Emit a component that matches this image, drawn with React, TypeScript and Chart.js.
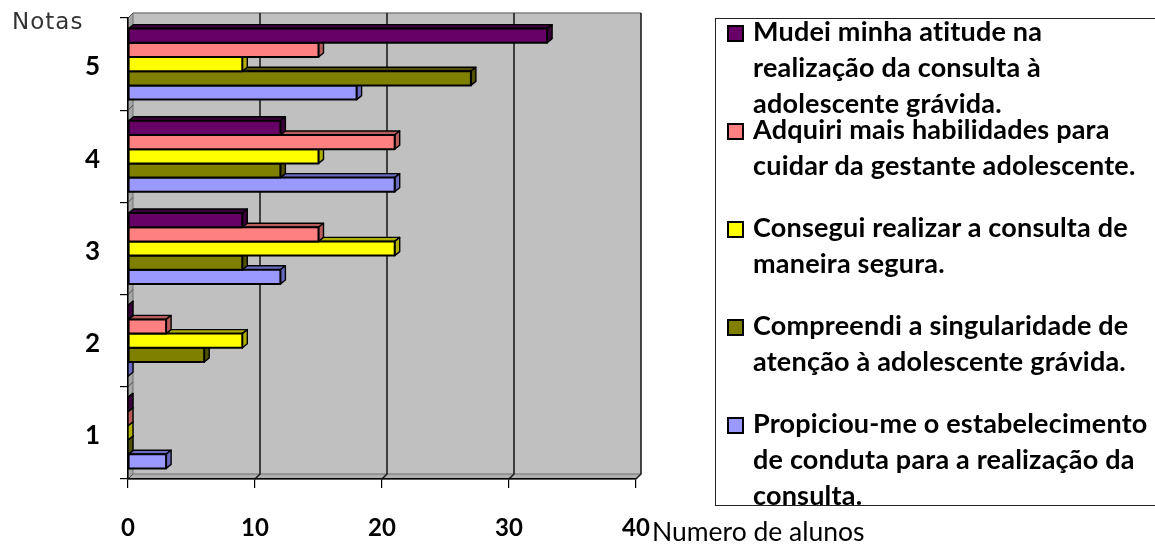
import React, { useEffect, useRef } from "react";
import { Chart, registerables } from "chart.js";

Chart.register(...registerables);

// Grades shown on the category axis, top to bottom
const notas = ["5", "4", "3", "2", "1"];

// Number of students per grade for each statement
const mudeiAtitude = [33, 12, 9, 0, 0];
const adquiriHabilidades = [15, 21, 15, 3, 0];
const conseguiRealizar = [9, 15, 21, 9, 0];
const compreendiSingularidade = [27, 12, 9, 6, 0];
const propiciouConduta = [18, 21, 12, 0, 3];

// Value axis range
const xMin = 0;
const xMax = 40;
const xStep = 10;

const axisTitleY = "Notas";
const axisTitleX = "Numero de alunos";

// Statement texts, already broken into the lines shown in the legend
const legendLines: string[][] = [
  ["Mudei minha atitude na", "realização da consulta à", "adolescente grávida."],
  ["Adquiri mais habilidades para", "cuidar da gestante adolescente."],
  ["Consegui realizar a consulta de", "maneira segura."],
  ["Compreendi a singularidade de", "atenção à adolescente grávida."],
  ["Propiciou-me o estabelecimento", "de conduta para a realização da", "consulta."],
];

const frontColors = ["#660066", "#FF8080", "#FFFF00", "#808000", "#9999FF"];
const sideColors = ["#3a003a", "#b85c5c", "#b0b000", "#505000", "#6a6ac0"];

const seriesValues = [
  mudeiAtitude,
  adquiriHabilidades,
  conseguiRealizar,
  compreendiSingularidade,
  propiciouConduta,
];

// depth of the walls and of the bars
const WALL_DX = 5;
const WALL_DY = 5;
const BAR_DX = 5;
const BAR_DY = 4;

const depthPlugin = {
  id: "depth3d",
  beforeDraw(chart: any) {
    const { ctx, chartArea } = chart;
    const { left, right, top, bottom } = chartArea;
    ctx.save();
    // back wall
    ctx.fillStyle = "#C0C0C0";
    ctx.fillRect(left + WALL_DX, top - WALL_DY, right - left, bottom - top);
    ctx.strokeStyle = "#808080";
    ctx.lineWidth = 1.5;
    ctx.beginPath();
    ctx.moveTo(left + WALL_DX, top - WALL_DY);
    ctx.lineTo(right + WALL_DX, top - WALL_DY);
    ctx.stroke();

    // left wall
    ctx.fillStyle = "#A6A6A6";
    ctx.beginPath();
    ctx.moveTo(left, top);
    ctx.lineTo(left + WALL_DX, top - WALL_DY);
    ctx.lineTo(left + WALL_DX, bottom - WALL_DY);
    ctx.lineTo(left, bottom);
    ctx.closePath();
    ctx.fill();
    ctx.strokeStyle = "#707070";
    ctx.lineWidth = 1;
    ctx.stroke();

    // floor
    ctx.fillStyle = "#B0B0B0";
    ctx.beginPath();
    ctx.moveTo(left, bottom);
    ctx.lineTo(left + WALL_DX, bottom - WALL_DY);
    ctx.lineTo(right + WALL_DX, bottom - WALL_DY);
    ctx.lineTo(right, bottom);
    ctx.closePath();
    ctx.fill();
    ctx.strokeStyle = "#707070";
    ctx.stroke();

    // category boundaries on the left wall
    const n = notas.length;
    ctx.strokeStyle = "#505050";
    for (let i = 0; i <= n; i++) {
      const yb = top + ((bottom - top) * i) / n;
      ctx.beginPath();
      ctx.moveTo(left, yb);
      ctx.lineTo(left + WALL_DX, yb - WALL_DY);
      ctx.stroke();
    }

    // value grid lines on the back wall
    const xs = chart.scales.x;
    ctx.strokeStyle = "#1e1e1e";
    ctx.lineWidth = 1.6;
    for (let v = xMin + xStep; v <= xMax; v += xStep) {
      const px = xs.getPixelForValue(v);
      ctx.beginPath();
      ctx.moveTo(px + WALL_DX, top - WALL_DY);
      ctx.lineTo(px + WALL_DX, bottom - WALL_DY);
      ctx.lineTo(px, bottom);
      ctx.stroke();
    }
    ctx.restore();
  },
  afterDatasetsDraw(chart: any) {
    const { ctx } = chart;
    ctx.save();
    ctx.lineJoin = "round";
    for (let d = chart.data.datasets.length - 1; d >= 0; d--) {
      const meta = chart.getDatasetMeta(d);
      meta.data.forEach((el: any) => {
        const { x, y, base, height } = el.getProps(["x", "y", "base", "height"], true);
        const x0 = Math.min(x, base);
        const x1 = Math.max(x, base);
        const y0 = y - height / 2;
        const y1 = y + height / 2;
        ctx.strokeStyle = "#000";
        ctx.lineWidth = 1.4;
        // top face
        ctx.fillStyle = sideColors[d];
        ctx.beginPath();
        ctx.moveTo(x0, y0);
        ctx.lineTo(x0 + BAR_DX, y0 - BAR_DY);
        ctx.lineTo(x1 + BAR_DX, y0 - BAR_DY);
        ctx.lineTo(x1, y0);
        ctx.closePath();
        ctx.fill();
        ctx.stroke();
        // side face
        ctx.beginPath();
        ctx.moveTo(x1, y0);
        ctx.lineTo(x1 + BAR_DX, y0 - BAR_DY);
        ctx.lineTo(x1 + BAR_DX, y1 - BAR_DY);
        ctx.lineTo(x1, y1);
        ctx.closePath();
        ctx.fill();
        ctx.stroke();
        // front face
        if (x1 > x0) {
          ctx.fillStyle = frontColors[d];
          ctx.fillRect(x0, y0, x1 - x0, y1 - y0);
          ctx.lineWidth = 2;
          ctx.strokeRect(x0, y0, x1 - x0, y1 - y0);
        }
      });
    }
    ctx.restore();
  },
};

const xTickFont = { family: "Lato", size: 24, weight: "bold" as const };
const yTickFont = { family: "Lato", size: 26, weight: "bold" as const };

export default function App() {
  const canvasRef = useRef<HTMLCanvasElement | null>(null);

  useEffect(() => {
    let chart: Chart | null = null;
    let cancelled = false;
    const build = () => {
      if (cancelled || !canvasRef.current) return;
      chart = new Chart(canvasRef.current, {
        type: "bar",
        data: {
          labels: notas,
          datasets: seriesValues.map((vals, i) => ({
            label: legendLines[i].join(" "),
            data: vals,
            backgroundColor: frontColors[i],
            borderWidth: 0,
            categoryPercentage: 0.77,
            barPercentage: 1.0,
          })),
        },
        options: {
          indexAxis: "y",
          animation: false,
          responsive: false,
          devicePixelRatio: 1,
          layout: { padding: { left: 0, top: 18, right: 519, bottom: 0 } },
          plugins: {
            legend: { display: false },
            tooltip: { enabled: false },
          },
          scales: {
            x: {
              type: "linear",
              min: xMin,
              max: xMax,
              ticks: { stepSize: xStep, color: "#000", font: xTickFont, padding: 26 },
              grid: { drawOnChartArea: false, drawTicks: true, tickLength: 9, color: "#000", lineWidth: 1.2 },
              border: { display: true, color: "#000", width: 1.5 },
              afterFit(scale: any) {
                scale.height = 72;
                scale.paddingLeft = 0;
                scale.paddingRight = 0;
              },
            },
            y: {
              type: "category",
              ticks: { color: "#000", font: yTickFont, padding: 20, labelOffset: 3 },
              grid: { drawOnChartArea: false, drawTicks: true, tickLength: 8, color: "#000", offset: true, lineWidth: 1.2 },
              border: { display: true, color: "#000", width: 1.5 },
              afterFit(scale: any) {
                scale.width = 128;
                scale.paddingTop = 0;
                scale.paddingBottom = 0;
              },
            },
          },
        },
        plugins: [depthPlugin],
      } as any);
    };
    const fontsReady = (document as any).fonts
      ? Promise.all([
          (document as any).fonts.load("bold 24px Lato"),
          (document as any).fonts.load("24px Lato"),
        ]).catch(() => null)
      : Promise.resolve();
    fontsReady.then(build);
    return () => {
      cancelled = true;
      if (chart) chart.destroy();
    };
  }, []);

  const legendTop = 41; // baseline of the first legend line
  const legendPitch = 98;
  const lineHeight = 36;
  const baselineInLine = 28;

  return (
    <div
      style={{
        position: "absolute",
        left: 0,
        top: 0,
        width: 1155,
        height: 551,
        background: "#fff",
        overflow: "hidden",
      }}
    >
      <canvas ref={canvasRef} width={1155} height={551} style={{ position: "absolute", left: 0, top: 0 }} />
      <div
        style={{
          position: "absolute",
          left: 12,
          top: 10,
          fontFamily: "'DejaVu Sans', Verdana, sans-serif",
          fontSize: 23,
          lineHeight: "23px",
          letterSpacing: 1,
          color: "#333",
          whiteSpace: "nowrap",
        }}
      >
        {axisTitleY}
      </div>
      <div
        style={{
          position: "absolute",
          left: 715,
          top: 18,
          width: 470,
          height: 488,
          border: "1.5px solid #222",
          boxSizing: "border-box",
        }}
      />
      {legendLines.map((lines, i) => {
        const base = legendTop + legendPitch * i;
        return (
          <React.Fragment key={i}>
            <div
              style={{
                position: "absolute",
                left: 727,
                top: base - 16,
                width: 17,
                height: 17,
                background: frontColors[i],
                border: "2px solid #000",
                boxSizing: "border-box",
              }}
            />
            <div
              style={{
                position: "absolute",
                left: 753,
                top: base - baselineInLine,
                fontFamily: "Lato, sans-serif",
                fontWeight: 700,
                fontSize: 27,
                letterSpacing: 0.2,
                lineHeight: `${lineHeight}px`,
                color: "#000",
                whiteSpace: "nowrap",
              }}
            >
              {lines.map((l, j) => (
                <div key={j}>{l}</div>
              ))}
            </div>
          </React.Fragment>
        );
      })}
      <div
        style={{
          position: "absolute",
          left: 652,
          top: 518,
          fontFamily: "Lato, sans-serif",
          fontSize: 26.5,
          lineHeight: "27px",
          color: "#000",
          whiteSpace: "nowrap",
        }}
      >
        {axisTitleX}
      </div>
    </div>
  );
}
